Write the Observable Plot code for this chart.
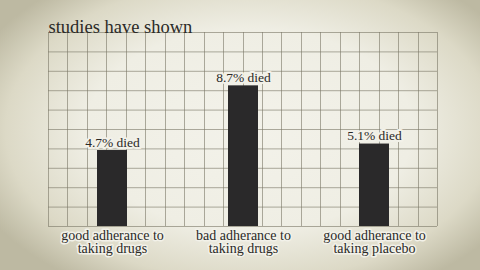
<!DOCTYPE html>
<html>
<head>
<meta charset="utf-8">
<script src="https://cdn.jsdelivr.net/npm/d3@7"></script>
<script src="https://cdn.jsdelivr.net/npm/@observablehq/plot@0.6"></script>
<style>
  html, body { margin: 0; padding: 0; }
  body {
    width: 480px; height: 270px; overflow: hidden;
    background: radial-gradient(ellipse 62% 68% at 52% 48%, #f3f2ea 0%, #efeee4 55%, #dcd9c6 82%, #bdb9a2 100%);
  }
  #chart svg { display: block; }
  #chart svg text { font-family: "Liberation Serif", "DejaVu Serif", serif !important; }
</style>
</head>
<body>
<div id="chart"></div>
<script>
const title = "studies have shown";
const categories = [
  "good adherance to\ntaking drugs",
  "bad adherance to\ntaking drugs",
  "good adherance to\ntaking placebo"
];
const diedPct = [4.7, 8.7, 5.1];
const gridRowTicks = d3.range(11).map(i => +(i * 1.2).toFixed(1));
const gridColumns = 20;

const data = categories.map((c, i) => ({category: c, value: diedPct[i]}));

const serif = "'Liberation Serif', 'DejaVu Serif', serif";
const ink = "#2b2a27";
const gridColor = "#7a7766";
const halo = "#f2f1e9";

const verticalGrid = (index, scales, values, dimensions) => {
  const {width, height, marginLeft, marginRight, marginTop, marginBottom} = dimensions;
  const g = d3.create("svg:g");
  const x0 = marginLeft, x1 = width - marginRight;
  const step = (x1 - x0) / gridColumns;
  for (let i = 0; i <= gridColumns; i++) {
    const x = Math.round(x0 + i * step) + 0.5;
    g.append("line")
      .attr("x1", x).attr("x2", x)
      .attr("y1", marginTop).attr("y2", height - marginBottom)
      .attr("stroke", gridColor).attr("stroke-opacity", 0.6).attr("stroke-width", 1);
  }
  return g.node();
};

const chart = Plot.plot({
  width: 480,
  height: 270,
  marginLeft: 48,
  marginRight: 43,
  marginTop: 32,
  marginBottom: 44,
  style: {background: "transparent", fontFamily: serif, color: ink},
  x: {domain: categories, paddingInner: 0.772, paddingOuter: 0.365, axis: null},
  y: {domain: [0, 12], axis: null},
  marks: [
    Plot.ruleY(gridRowTicks, {y: d => d, stroke: gridColor, strokeOpacity: 0.6}),
    verticalGrid,
    Plot.barY(data, {x: "category", y: "value", fill: "#2a292a"}),
    Plot.text(data, {
      x: "category", y: "value", text: d => `${d.value}% died`,
      lineAnchor: "bottom", dy: -4, fontSize: 13.5, fontFamily: serif, fill: ink,
      stroke: halo, strokeWidth: 4
    }),
    Plot.text(data, {
      x: "category", y: 0, text: "category",
      lineAnchor: "top", dy: 4, fontSize: 14, lineHeight: 0.96, fontFamily: serif, fill: ink,
      stroke: halo, strokeWidth: 3
    }),
    Plot.text([title], {
      frameAnchor: "top-left", text: d => d, textAnchor: "start",
      lineAnchor: "bottom", dy: 0, fontSize: 18.5, fontFamily: serif, fill: ink
    })
  ]
});
document.getElementById("chart").appendChild(chart);
</script>
</body>
</html>
